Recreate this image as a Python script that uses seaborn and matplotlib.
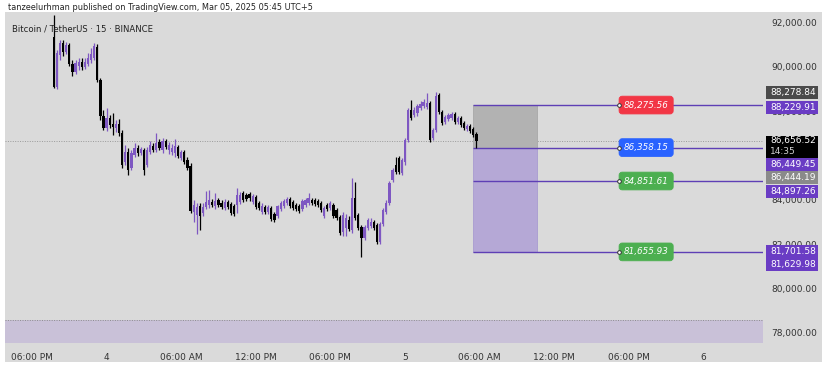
import matplotlib
matplotlib.use("Agg")
import numpy as np
import pandas as pd
import seaborn as sns
import matplotlib.pyplot as plt
from matplotlib.patches import Rectangle, FancyBboxPatch

# ---------------- data (BTC/USDT, 15-minute candles) ----------------
first_slot = 7  # 15-min slots after Mar 3, 06:00 PM

open_ = [91335, 89085, 90525, 91065, 90660, 90975, 90120, 89760, 90030, 90210,
         89985, 90120, 90300, 90390, 90885, 89400, 87780, 87240, 87690, 87420,
         87240, 87420, 87015, 85710, 86160, 85440, 86025, 86340, 86115, 86250,
         85575, 86160, 86430, 86250, 86610, 86250, 86655, 86250, 86160, 86115,
         86385, 85890, 86160, 85800, 85530, 83460, 83325, 83730, 83415, 83685,
         83775, 83910, 83730, 84000, 83865, 83640, 83910, 83820, 83730, 83775,
         83910, 84315, 84225, 84270, 83910, 84135, 83865, 83460, 83685, 83460,
         83640, 83370, 83280, 83595, 83730, 83865, 84045, 83910, 83775, 83730,
         83595, 83775, 83865, 84000, 84000, 83955, 83865, 83280, 83775, 83640,
         83775, 83550, 83235, 82560, 82740, 83100, 82650, 84090, 83325, 82785,
         82290, 82740, 82830, 83010, 82875, 82110, 82920, 83460, 83865, 84900,
         85575, 85890, 85215, 85710, 86700, 88050, 87825, 87915, 88140, 88230,
         88185, 88365, 86790, 87150, 88725, 87960, 87510, 87645, 87690, 87870,
         87510, 87690, 87465, 87195, 87330, 87195, 86970]

high_ = [92325, 90750, 91200, 91200, 91110, 91065, 90300, 90300, 90390, 90390,
         90390, 90615, 90840, 91065, 91020, 89490, 88050, 88140, 87825, 87915,
         87600, 87645, 87150, 86475, 86340, 86250, 86565, 86475, 86385, 86340,
         86385, 86655, 86565, 87015, 86745, 86790, 86745, 86610, 86520, 86745,
         86475, 86250, 86250, 85935, 85665, 84000, 83865, 83865, 83865, 84405,
         84450, 84045, 84315, 84090, 84000, 84045, 84000, 83910, 83820, 84540,
         84360, 84405, 84315, 84360, 84270, 84225, 83955, 83865, 83775, 83775,
         83730, 83460, 83775, 83955, 84045, 84135, 84135, 84000, 83865, 83820,
         84045, 84090, 84315, 84090, 84090, 84045, 83955, 83730, 83865, 83955,
         83865, 83640, 83325, 83460, 83370, 83280, 84990, 84810, 83415, 82875,
         82875, 83190, 83190, 83100, 82965, 83010, 83640, 84000, 84855, 85440,
         85935, 85980, 85890, 86790, 88140, 88500, 88185, 88320, 88455, 88545,
         88815, 88455, 87240, 88860, 88815, 88050, 87825, 87915, 87960, 87960,
         87780, 87780, 87555, 87420, 87420, 87285, 87060]

low_ = [89040, 88995, 90300, 90480, 90570, 90030, 89580, 89670, 89850, 89850,
        89895, 90030, 90165, 90300, 89310, 87600, 87150, 87105, 87240, 86925,
        87060, 86880, 85440, 85575, 85125, 85350, 85935, 85980, 86025, 85125,
        85485, 86070, 86160, 86160, 86250, 86115, 86295, 86070, 86025, 85935,
        85890, 85800, 85620, 85350, 83415, 83010, 82470, 82650, 83280, 83595,
        83640, 83685, 83595, 83685, 83595, 83550, 83595, 83325, 83280, 83415,
        83820, 83910, 83955, 83955, 83820, 83595, 83550, 83370, 83370, 83370,
        83055, 83010, 83190, 83505, 83640, 83775, 83640, 83550, 83505, 83415,
        83505, 83685, 83775, 83775, 83730, 83685, 83460, 83190, 83505, 83550,
        83190, 83100, 82425, 82380, 82380, 82605, 82515, 83100, 82650, 81435,
        82200, 82650, 82740, 82650, 82020, 82020, 82830, 83370, 83775, 84810,
        85170, 85170, 85125, 85575, 86610, 87600, 87735, 87780, 88050, 88140,
        88095, 86610, 86700, 87060, 87870, 87375, 87420, 87555, 87600, 87420,
        87420, 87285, 87150, 87105, 87015, 86835, 86340]

close_ = [89085, 90615, 91065, 90660, 90975, 90120, 89760, 90165, 90210, 89985,
          90210, 90390, 90570, 90930, 89400, 87780, 87240, 87690, 87375, 87285,
          87420, 87015, 85575, 86160, 85350, 86115, 86340, 86115, 86295, 85350,
          86250, 86475, 86250, 86565, 86340, 86655, 86385, 86475, 86340, 86430,
          85980, 86160, 85710, 85440, 83505, 83775, 83685, 83280, 83685, 83910,
          84000, 83775, 83955, 83775, 83685, 83910, 83685, 83415, 83370, 84225,
          84225, 84000, 84045, 84090, 84180, 83685, 83640, 83730, 83460, 83685,
          83145, 83100, 83730, 83865, 83955, 84045, 83730, 83640, 83595, 83505,
          83955, 84000, 84090, 83865, 83820, 83775, 83550, 83640, 83595, 83865,
          83280, 83190, 82515, 83325, 83190, 82695, 84090, 83190, 82740, 82290,
          82785, 83100, 83010, 82740, 82110, 82920, 83550, 83865, 84765, 85350,
          85260, 85260, 85800, 86700, 88050, 87690, 88050, 88230, 88320, 88410,
          88365, 86700, 87150, 88680, 87960, 87465, 87735, 87825, 87870, 87510,
          87690, 87375, 87240, 87330, 87105, 86925, 86656.52]

tick_slots = [0, 24, 48, 72, 96, 120, 144, 168, 192, 216]
tick_labels = ["06:00 PM", "4", "06:00 AM", "12:00 PM", "06:00 PM", "5",
               "06:00 AM", "12:00 PM", "06:00 PM", "6"]
price_ticks = [92000, 90000, 88000, 84000, 82000, 80000, 78000]

# position tool levels
levels = [88275.56, 86358.15, 84851.61, 81655.93]
level_colors = ["#f23645", "#2962ff", "#4caf50", "#4caf50"]

# price-scale labels
scale_prices = [88278.84, 88229.91, 86656.52, 86449.45, 86444.19, 84897.26, 81701.58, 81629.98]
scale_colors = ["#4a4a4a", "#6a3cc4", "#000000", "#6a3cc4", "#8a8a8a", "#6a3cc4", "#6a3cc4", "#6a3cc4"]
scale_shift_px = [-12, 1, 0, 19.4, 31.8, 11, 1, 12.5]   # stacking offsets (layout)
countdown = "14:35"
last_price = 86656.52
volume_band_top = 78586

header = "tanzeelurhman published on TradingView.com, Mar 05, 2025 05:45 UTC+5"
symbol = "Bitcoin / TetherUS · 15 · BINANCE"

# ---------------- figure ----------------
sns.set_theme(style="white")
plt.rcParams['font.family'] = ['DejaVu Sans']

W, H = 828, 371
fig = plt.figure(figsize=(W / 100, H / 100), dpi=100)
fig.patch.set_facecolor("white")
BG = "#dadada"
fig.add_artist(Rectangle((5 / W, 1 - 362 / H), 817 / W, 350 / H,
                         transform=fig.transFigure, fc=BG, ec="none", zorder=-5))

ax = fig.add_axes([5 / W, 1 - 343 / H, 758 / W, 331 / H])
ax.set_facecolor("none")
XL = (-8.69, 235.2)
YL = (77549, 92471)
ax.set_xlim(*XL)
ax.set_ylim(*YL)

n = len(close_)
df = pd.DataFrame(dict(slot=first_slot + np.arange(n), open=open_, high=high_,
                       low=low_, close=close_))
df["dir"] = np.where(df["close"] >= df["open"], "up", "down")
UP, DOWN = "#7e57c2", "#000000"
palette = {"up": UP, "down": DOWN}
colors = df["dir"].map(palette)

# bottom band and dotted lines
ax.axhspan(YL[0], volume_band_top, color="#c9c1d8", lw=0, zorder=1)
ax.axhline(volume_band_top, color="#8c8c8c", ls=(0, (1, 1.5)), lw=0.7, zorder=1.5)
ax.axhline(last_price, color="#9a9a9a", ls=(0, (1, 1.5)), lw=0.7, zorder=1.5)

# position boxes
box_x0, box_x1 = 142, 162.5
tp, entry, sl = levels[0], levels[1], levels[3]
ax.add_patch(Rectangle((box_x0, entry), box_x1 - box_x0, tp - entry,
                       fc="#b2b2b2", ec="#a8a8a8", lw=0.6, zorder=2))
ax.add_patch(Rectangle((box_x0, sl), box_x1 - box_x0, entry - sl,
                       fc="#b5a8d6", ec="#a99bd0", lw=0.6, zorder=2))
ax.hlines(levels, box_x0, XL[1], color="#5e3fb5", lw=1.0, zorder=2.5)

# candles
ax.vlines(df["slot"], df["low"], df["high"], colors=colors, lw=0.9, zorder=3)
body_bottom = np.minimum(df["open"], df["close"])
body_h = np.maximum(np.abs(df["close"] - df["open"]), 45)
ax.bar(df["slot"], body_h, bottom=body_bottom, width=0.72, color=colors, lw=0, zorder=3)

# level labels
lab_x = 197.6
lab_w = 17.4
lab_h = 800
aspect = (YL[1] - YL[0]) / 331 / ((XL[1] - XL[0]) / 758)
for lv, c in zip(levels, level_colors):
    ax.add_patch(FancyBboxPatch((lab_x - lab_w / 2, lv - lab_h / 2), lab_w, lab_h,
                                boxstyle="round,pad=0,rounding_size=1.0",
                                mutation_aspect=aspect, fc=c, ec=c, lw=0.6, zorder=4))
    ax.text(lab_x, lv, f"{lv:,.2f}", ha="center", va="center", color="white",
            fontsize=6.3, style="italic", zorder=5)
handles = pd.DataFrame(dict(x=[lab_x - lab_w / 2] * len(levels), y=levels))
sns.scatterplot(data=handles, x="x", y="y", ax=ax, s=7, color="white",
                edgecolor="#333333", linewidth=0.7, zorder=6)

# axes styling
for s in ax.spines.values():
    s.set_visible(False)
ax.yaxis.tick_right()
ax.set_yticks(price_ticks)
ax.set_yticklabels([f"{p:,.2f}" for p in price_ticks])
ax.set_xticks(tick_slots)
ax.set_xticklabels(tick_labels)
ax.tick_params(axis="y", length=0, pad=6, labelsize=6.5, labelcolor="#333333")
ax.tick_params(axis="x", length=0, pad=7, labelsize=6.5, labelcolor="#333333")
ax.set_xlabel("")
ax.set_ylabel("")
if ax.get_legend():
    ax.get_legend().remove()

# price-scale labels
for p, c, sh in zip(scale_prices, scale_colors, scale_shift_px):
    ypx = ax.transData.transform((0, p))[1] - sh  # display pixels (origin bottom)
    if p == last_price:
        top = ypx + 5
        bot = ypx - 17
        fig.add_artist(Rectangle((766 / W, bot / H), 52 / W, (top - bot) / H,
                                 transform=fig.transFigure, fc=c, ec="none", zorder=5))
        fig.text(770 / W, ypx / H, f"{p:,.2f}", color="white", fontsize=6.5,
                 va="center", ha="left", zorder=6)
        fig.text(770 / W, (ypx - 11) / H, countdown, color="#d0d0d0", fontsize=6.5,
                 va="center", ha="left", zorder=6)
    else:
        fig.add_artist(Rectangle((766 / W, (ypx - 6.5) / H), 52 / W, 13 / H,
                                 transform=fig.transFigure, fc=c, ec="none", zorder=5))
        fig.text(770 / W, ypx / H, f"{p:,.2f}", color="white", fontsize=6.5,
                 va="center", ha="left", zorder=6)

fig.text(8 / W, 1 - 8 / H, header, fontsize=5.9, color="#222222", va="center", ha="left")
fig.text(12 / W, 1 - 29 / H, symbol, fontsize=6.1, color="#222222", va="center", ha="left")

fig.savefig("out.png", dpi=100, facecolor="white")
